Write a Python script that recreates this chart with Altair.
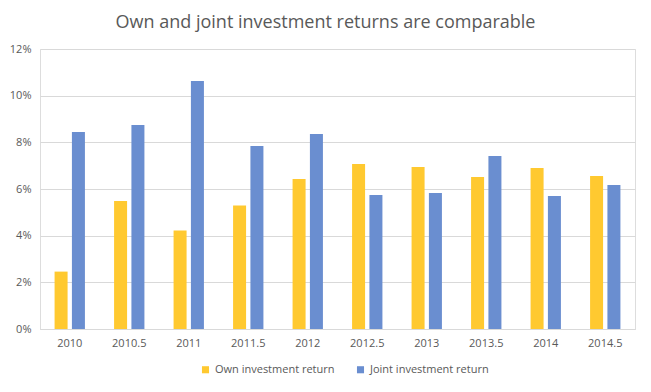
import altair as alt
import pandas as pd

periods = ["2010", "2010.5", "2011", "2011.5", "2012", "2012.5", "2013", "2013.5", "2014", "2014.5"]
own = [2.46, 5.49, 4.22, 5.29, 6.43, 7.07, 6.94, 6.51, 6.90, 6.56]
joint = [8.44, 8.74, 10.63, 7.84, 8.36, 5.74, 5.83, 7.41, 5.70, 6.17]
series = ["Own investment return", "Joint investment return"]
colors = ["#FFC930", "#6A8ED0"]

rows = []
for p, o, j in zip(periods, own, joint):
    rows.append({"period": p, "series": series[0], "value": o / 100})
    rows.append({"period": p, "series": series[1], "value": j / 100})
df = pd.DataFrame(rows)

font = "Open Sans"
grey = "#595959"

chart = alt.Chart(df).mark_bar().encode(
    x=alt.X("period:N", sort=periods, title=None,
            scale=alt.Scale(paddingInner=0.49, paddingOuter=0.245),
            axis=alt.Axis(labelAngle=0, ticks=False, domain=True, domainColor="#d9d9d9",
                          labelColor=grey, labelFont=font, labelFontSize=11, labelPadding=8)),
    xOffset=alt.XOffset("series:N", sort=series, scale=alt.Scale(paddingInner=0.25)),
    y=alt.Y("value:Q", title=None,
            scale=alt.Scale(domain=[0, 0.12]),
            axis=alt.Axis(format=".0%", values=[0, 0.02, 0.04, 0.06, 0.08, 0.1, 0.12],
                          ticks=False, domain=False, gridColor="#d9d9d9",
                          labelColor=grey, labelFont=font, labelFontSize=11, labelPadding=9)),
    color=alt.Color("series:N", sort=series,
                    scale=alt.Scale(domain=series, range=colors),
                    legend=alt.Legend(title=None, orient="none", direction="horizontal",
                                      legendX=160, legendY=315,
                                      symbolType="square", symbolSize=50, symbolStrokeWidth=0,
                                      labelColor=grey, labelFont=font, labelFontSize=11,
                                      columnPadding=20)),
).properties(
    width=595, height=280,
    title=alt.TitleParams("Own and joint investment returns are comparable",
                          font=font, fontSize=18, fontWeight="normal", color=grey,
                          anchor="middle", dx=-12, offset=11),
    autosize=alt.AutoSizeParams(type="none"),
    padding={"left": 32, "top": 41, "right": 8, "bottom": 55},
).configure_view(stroke=None).configure(background="white")

chart.save("out.html", embed_options={"renderer": "svg", "actions": False})
